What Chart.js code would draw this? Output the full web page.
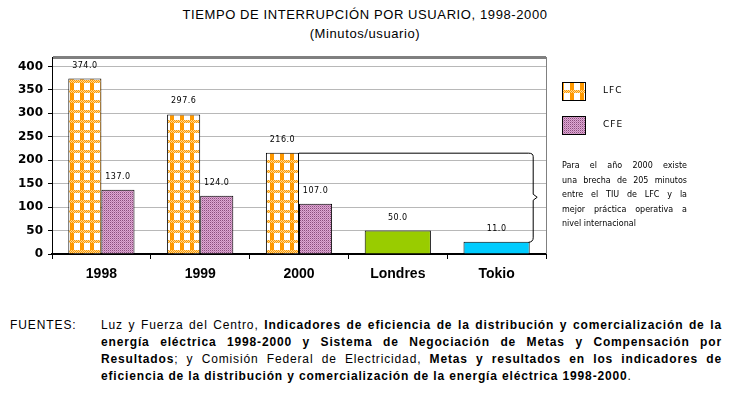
<!DOCTYPE html>
<html><head><meta charset="utf-8">
<script src="https://cdn.jsdelivr.net/npm/chart.js@4.4.1/dist/chart.umd.min.js"></script>
<style>
html,body{margin:0;padding:0;background:#fff;}
body{width:730px;height:400px;overflow:hidden;position:relative;font-family:"Liberation Sans",Arial,sans-serif;color:#000;}
#wrap{position:absolute;left:0;top:0;width:730px;height:300px;}
#title{position:absolute;top:5px;left:0;width:730px;text-align:center;font-size:13px;letter-spacing:0.6px;line-height:19px;}
#note{position:absolute;left:562px;top:159px;width:125px;font-family:"DejaVu Sans",sans-serif;font-size:8px;line-height:14.5px;}
#note div{text-align:justify;text-align-last:justify;white-space:nowrap;}
#note div.last{text-align-last:left;}
#src{position:absolute;left:10px;top:317px;font-size:12px;line-height:17px;letter-spacing:0.9px;}
#srcText{position:absolute;left:101px;top:317px;width:621px;font-size:12px;line-height:17px;letter-spacing:0.85px;}
#srcText div{text-align:justify;text-align-last:justify;white-space:nowrap;}
#srcText div.last{text-align-last:left;}
</style></head>
<body>
<div id="title">TIEMPO DE INTERRUPCIÓN POR USUARIO, 1998-2000<br>(Minutos/usuario)</div>
<div id="wrap"><canvas id="c" width="730" height="300"></canvas></div>
<div id="note">
<div>Para el año 2000 existe</div>
<div>una brecha de 205 minutos</div>
<div>entre el TIU de LFC y la</div>
<div>mejor práctica operativa a</div>
<div class="last">nivel internacional</div>
</div>
<div id="src">FUENTES:</div>
<div id="srcText">
<div>Luz y Fuerza del Centro, <b>Indicadores de eficiencia de la distribución y comercialización de la</b></div>
<div><b>energía eléctrica 1998-2000 y Sistema de Negociación de Metas y Compensación por</b></div>
<div><b>Resultados</b>; y Comisión Federal de Electricidad, <b>Metas y resultados en los indicadores de</b></div>
<div class="last"><b>eficiencia de la distribución y comercialización de la energía eléctrica 1998-2000</b>.</div>
</div>
<script>
// ---- data ----
const categories = ['1998', '1999', '2000', 'Londres', 'Tokio'];
const lfcValues = [374.0, 297.6, 216.0, null, null];
const cfeValues = [137.0, 124.0, 107.0, null, null];
const intlValues = [null, null, null, 50.0, 26.0];
const intlValueLabels = ['', '', '', '50.0', '11.0'];
const yTicks = [0, 50, 100, 150, 200, 250, 300, 350, 400, 420];
const seriesNames = ['LFC', 'CFE'];

// ---- patterns ----
function makePattern(w, h, painter) {
  const c = document.createElement('canvas');
  c.width = w; c.height = h;
  const g = c.getContext('2d');
  painter(g);
  return g.createPattern(c, 'repeat');
}
const orangePat = makePattern(10, 10, g => {
  g.fillStyle = '#ffffff'; g.fillRect(0, 0, 10, 10);
  g.fillStyle = '#ff9900'; g.fillRect(0, 0, 4, 10);
  for (let y = 0; y < 3; y++) for (let x = 0; x < 10; x++) {
    g.fillStyle = ((x + y) % 2 === 0) ? '#ff9900' : '#ffd890';
    g.fillRect(x, y, 1, 1);
  }
});
const pinkPat = makePattern(2, 2, g => {
  g.fillStyle = '#dcaad4'; g.fillRect(0, 0, 2, 2);
  g.fillStyle = '#8c4c7c'; g.fillRect(0, 0, 1, 1);
  g.fillStyle = '#c080b0'; g.fillRect(1, 1, 1, 1);
});
const intlColors = ['#000', '#000', '#000', '#99cc00', '#00ccff'];

// ---- plugins ----
const valueLabels = {
  id: 'valueLabels',
  afterDatasetsDraw(chart) {
    const ctx = chart.ctx;
    ctx.save();
    ctx.font = '8px "DejaVu Sans", sans-serif';
    ctx.letterSpacing = '0.5px';
    ctx.fillStyle = '#000';
    ctx.textAlign = 'center';
    ctx.textBaseline = 'middle';
    chart.data.datasets.forEach((ds, di) => {
      chart.getDatasetMeta(di).data.forEach((el, i) => {
        const v = ds.data[i];
        if (v === null || v === undefined) return;
        const txt = ds.valueLabels ? ds.valueLabels[i] : v.toFixed(1);
        ctx.fillText(txt, el.x, el.y - 13);
      });
    });
    ctx.restore();
  }
};
const bracket = {
  id: 'bracket',
  afterDatasetsDraw(chart) {
    const a = chart.getDatasetMeta(0).data[2];
    const b = chart.getDatasetMeta(2).data[4];
    const x0 = a.x + a.width / 2, y0 = a.y;
    const xr = b.x + b.width / 2 + 3, yb = b.y;
    const ym = (y0 + yb) / 2, r = 4;
    const ctx = chart.ctx;
    ctx.save();
    ctx.strokeStyle = '#000'; ctx.lineWidth = 1;
    ctx.beginPath();
    ctx.moveTo(x0, y0 + 0.5);
    ctx.lineTo(xr - r, y0 + 0.5);
    ctx.quadraticCurveTo(xr + 0.5, y0 + 0.5, xr + 0.5, y0 + r);
    ctx.lineTo(xr + 0.5, ym - 3);
    ctx.lineTo(xr + 4.5, ym);
    ctx.lineTo(xr + 0.5, ym + 3);
    ctx.lineTo(xr + 0.5, yb - r);
    ctx.quadraticCurveTo(xr + 0.5, yb, xr - r, yb + 0.5);
    ctx.stroke();
    ctx.restore();
  }
};
const frame = {
  id: 'frame',
  afterDraw(chart) {
    const {ctx, chartArea} = chart;
    ctx.save();
    ctx.strokeStyle = '#808080'; ctx.lineWidth = 1;
    ctx.beginPath();
    ctx.moveTo(chartArea.right + 0.5, chartArea.top);
    ctx.lineTo(chartArea.right + 0.5, chartArea.bottom);
    ctx.stroke();
    // legend
    const lx = chartArea.right + 16;
    const pats = [orangePat, pinkPat];
    ctx.font = '9px "DejaVu Sans", sans-serif';
    ctx.letterSpacing = '1px';
    ctx.textBaseline = 'middle';
    ctx.textAlign = 'left';
    seriesNames.forEach((name, i) => {
      const by = chartArea.top + 25 + i * 34;
      ctx.fillStyle = pats[i];
      ctx.fillRect(lx, by, 23, 18);
      ctx.strokeStyle = '#000';
      ctx.strokeRect(lx + 0.5, by + 0.5, 23, 18);
      ctx.fillStyle = '#000';
      ctx.fillText(name, lx + 41, by + 9);
    });
    ctx.restore();
  }
};

// ---- chart ----
new Chart(document.getElementById('c'), {
  type: 'bar',
  data: {
    labels: categories,
    datasets: [
      {label: seriesNames[0], data: lfcValues, backgroundColor: orangePat, borderColor: '#000', borderWidth: 1},
      {label: seriesNames[1], data: cfeValues, backgroundColor: pinkPat, borderColor: '#000', borderWidth: 1},
      {label: 'Internacional', data: intlValues, valueLabels: intlValueLabels, backgroundColor: intlColors, borderColor: '#000', borderWidth: 1}
    ]
  },
  options: {
    responsive: false,
    animation: false,
    skipNull: true,
    categoryPercentage: 0.67,
    barPercentage: 1.0,
    layout: {padding: {top: 57, right: 184, bottom: 16, left: 0}},
    plugins: {legend: {display: false}, title: {display: false}, tooltip: {enabled: false}},
    scales: {
      x: {
        grid: {offset: true, drawOnChartArea: false, tickLength: 5, color: '#000', tickColor: '#000'},
        border: {color: '#000', width: 2},
        ticks: {font: {family: 'Liberation Sans', weight: 'bold', size: 14}, color: '#000', padding: 7},
        afterFit: s => { s.height = 30; }
      },
      y: {
        min: 0, max: 420,
        afterBuildTicks: s => { s.ticks = yTicks.map(v => ({value: v})); },
        grid: {
          color: c => (c.tick && c.tick.value === 420) ? '#808080' : '#b8b8b8',
          lineWidth: c => (c.tick && c.tick.value === 420) ? 3 : 1,
          tickColor: c => (c.tick && c.tick.value === 420) ? 'rgba(0,0,0,0)' : '#000',
          tickLength: 4
        },
        border: {color: '#000', width: 1},
        ticks: {font: {family: 'DejaVu Sans', weight: 'bold', size: 12}, color: '#000', padding: 5,
          callback: v => v === 420 ? '' : String(v)},
        afterFit: s => { s.width = 52; }
      }
    }
  },
  plugins: [valueLabels, bracket, frame]
});
</script>
</body></html>
